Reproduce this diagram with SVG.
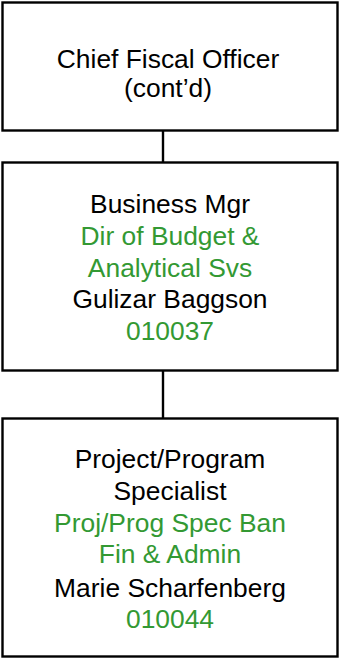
<svg xmlns="http://www.w3.org/2000/svg" width="339" height="659" viewBox="0 0 339 659">
<style>
.box{fill:#fff;stroke:#000;stroke-width:2.4}
.t{font-family:"Liberation Sans",Arial,sans-serif;font-size:26.4px;text-anchor:middle;fill:#000}
.g{fill:#339933}
.c{stroke:#000;stroke-width:2.4;fill:none}
</style>
<rect width="339" height="659" fill="#fff"/>
<g id="connectors">
<line class="c" x1="163" y1="130.5" x2="163" y2="162.5"/>
<line class="c" x1="163" y1="370.5" x2="163" y2="418.5"/>
</g>
<g id="node-cfo">
<rect class="box" x="2.5" y="2.5" width="335" height="128"/>
<text class="t" x="168" y="68.3">Chief Fiscal Officer</text>
<text class="t" x="168" y="96.7">(cont’d)</text>
</g>
<g id="node-bm">
<rect class="box" x="2.5" y="162.5" width="335" height="208"/>
<text class="t" x="170" y="213.3">Business Mgr</text>
<text class="t g" x="170" y="245">Dir of Budget &amp;</text>
<text class="t g" x="170" y="276.7">Analytical Svs</text>
<text class="t" x="170" y="308.3">Gulizar Baggson</text>
<text class="t g" x="170" y="340">010037</text>
</g>
<g id="node-pps">
<rect class="box" x="2.5" y="418.5" width="335" height="238"/>
<text class="t" x="170" y="468.3">Project/Program</text>
<text class="t" x="170" y="499.7">Specialist</text>
<text class="t g" x="170" y="531.7">Proj/Prog Spec Ban</text>
<text class="t g" x="170" y="563.3">Fin &amp; Admin</text>
<text class="t" x="170" y="596.7">Marie Scharfenberg</text>
<text class="t g" x="170" y="628.3">010044</text>
</g>
</svg>
